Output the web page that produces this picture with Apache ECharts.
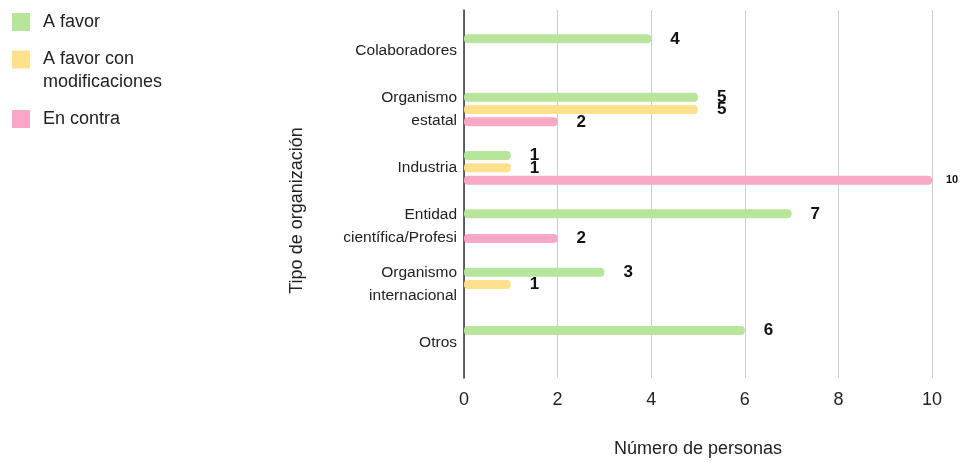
<!DOCTYPE html>
<html>
<head>
<meta charset="utf-8">
<script src="https://cdn.jsdelivr.net/npm/echarts@6/dist/echarts.min.js"></script>
<style>html,body{margin:0;padding:0;background:#fff}#c{width:961px;height:463px}</style>
</head>
<body>
<div id="c"></div>
<script>
const categories = ['Colaboradores', 'Organismo\nestatal', 'Industria', 'Entidad\ncientífica/Profesi', 'Organismo\ninternacional', 'Otros'];
const seriesNames = ['A favor', 'A favor con modificaciones', 'En contra'];
const aFavor = [4, 5, 1, 7, 3, 6];
const aFavorMod = [null, 5, 1, null, 1, null];
const enContra = [null, 2, 10, 2, null, null];
const xTicks = [0, 2, 4, 6, 8, 10];
const colors = ['#b7e59b', '#ffe08c', '#f9a7c7'];

const FONT = 'Liberation Sans, Arial, sans-serif';
const chart = echarts.init(document.getElementById('c'));

function makeSeries(name, data, color) {
  return {
    name: name, type: 'bar', xAxisIndex: 1, yAxisIndex: 1,
    data: data.map(v => {
      if (v === null) return '-';
      if (v >= 10) return { value: v, label: { fontSize: 11, distance: 14 } };
      return v;
    }),
    barWidth: 9, barGap: '37%',
    itemStyle: { color: color, borderRadius: 4 },
    label: { show: true, position: 'right', distance: 19, fontFamily: FONT, fontSize: 17, fontWeight: 'bold', color: '#111' }
  };
}

const legendBase = {
  orient: 'vertical', left: 12, padding: 0, icon: 'rect', itemWidth: 18, itemHeight: 18, itemGap: 0,
  textStyle: { fontFamily: FONT, fontSize: 18, color: '#222', lineHeight: 23, padding: [0, 0, 0, 8] }
};
const tallIcon = 'path://M0,0L0.01,0M0,3L18,3L18,21L0,21ZM0,46L0.01,46';

chart.setOption({
  animation: false,
  legend: [
    Object.assign({}, legendBase, { top: 10.5, data: [seriesNames[0]] }),
    Object.assign({}, legendBase, { top: 47.5, itemHeight: 46,
      data: [{ name: seriesNames[1], icon: tallIcon }],
      formatter: n => n.replace(' con ', ' con\n') }),
    Object.assign({}, legendBase, { top: 107.5, data: [seriesNames[2]] })
  ],
  grid: [
    { left: 464, right: 29, top: 10, bottom: 82 },
    { left: 464, right: 29, top: 22, bottom: 91 }
  ],
  xAxis: [
    { type: 'value', gridIndex: 0, min: xTicks[0], max: xTicks[xTicks.length - 1], interval: 2,
      name: 'Número de personas', nameLocation: 'middle', nameGap: 62,
      nameTextStyle: { fontFamily: FONT, fontSize: 18, color: '#222' },
      axisLine: { show: false }, axisTick: { show: false },
      axisLabel: { fontFamily: FONT, fontSize: 18, color: '#222', margin: 13 },
      splitLine: { lineStyle: { color: '#cccccc', width: 1 } } },
    { type: 'value', gridIndex: 1, min: 0, max: 10, show: false }
  ],
  yAxis: [
    { type: 'category', gridIndex: 0, data: [''], inverse: true,
      name: 'Tipo de organización', nameLocation: 'middle', nameGap: 158,
      nameTextStyle: { fontFamily: FONT, fontSize: 18, color: '#222', padding: [0, 33, 0, 0] },
      axisLine: { show: true, lineStyle: { color: '#333', width: 1.5 } },
      axisTick: { show: false }, axisLabel: { show: false }, splitLine: { show: false } },
    { type: 'category', gridIndex: 1, data: categories, inverse: true,
      axisLine: { show: false }, axisTick: { show: false },
      axisLabel: { fontFamily: FONT, fontSize: 15.5, color: '#222', margin: 7, lineHeight: 23 } }
  ],
  series: [
    makeSeries(seriesNames[0], aFavor, colors[0]),
    makeSeries(seriesNames[1], aFavorMod, colors[1]),
    makeSeries(seriesNames[2], enContra, colors[2])
  ]
});
</script>
</body>
</html>
